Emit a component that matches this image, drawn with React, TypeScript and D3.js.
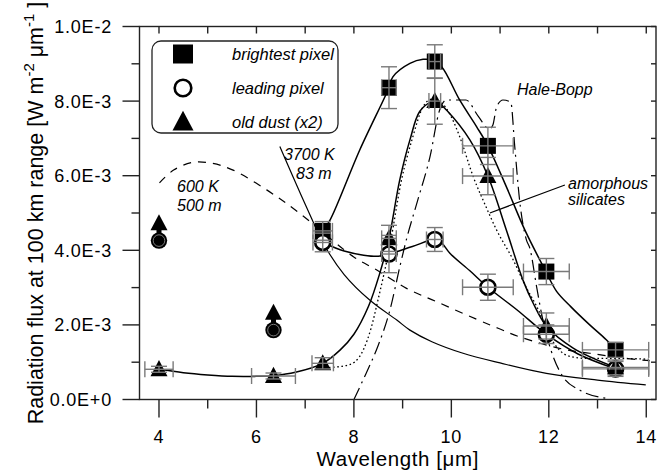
import React from 'react';
import * as d3 from 'd3';

// ---------- axes ----------
const xMajorTicks = [4, 6, 8, 10, 12, 14];
const xAllTicks = [4, 5, 6, 7, 8, 9, 10, 11, 12, 13, 14];
const yMajorTicks = [0, 2, 4, 6, 8, 10]; // in units of 1E-3
const yAllTicks = [0, 1, 2, 3, 4, 5, 6, 7, 8, 9, 10];

// ---------- measured points (wavelength µm, flux 1E-3 W m-2 µm-1) ----------
const brightX = [7.36, 8.72, 9.66, 10.75, 11.95, 13.37];
const brightY = [4.52, 8.36, 9.06, 6.8, 3.43, 1.33];
const brightXErr = [0.2, 0.15, 0.12, 0.52, 0.47, 0.68];
const brightYErr = [0.25, 0.56, 0.45, 0.5, 0.35, 0.2];

const leadX = [7.36, 8.72, 9.66, 10.75, 11.95, 13.37];
const leadY = [4.21, 3.9, 4.29, 3.01, 1.75, 0.82];
const leadXErr = [0.2, 0.15, 0.17, 0.52, 0.47, 0.68];
const leadYErr = [0.25, 0.5, 0.32, 0.35, 0.25, 0.2];

const dustX = [4.0, 6.35, 7.36, 8.72, 9.66, 10.75, 11.95, 13.37];
const dustY = [0.81, 0.63, 0.97, 4.32, 8.0, 5.99, 1.97, 0.86];
const dustXErr = [0.29, 0.45, 0.22, 0.15, 0.12, 0.52, 0.47, 0.68];
const dustYErr = [0.08, 0.08, 0.15, 0.35, 0.62, 0.5, 0.35, 0.2];

// lower limits (leading pixel circle with old-dust arrow)
const limitX = [4.0, 6.35];
const limitLead = [4.26, 1.86];
const limitDust = [4.72, 2.32];

// ---------- fitted / model curves ----------
const brightFitX = [7.36, 7.51, 8.12, 8.72, 8.8, 9.15, 9.42, 9.6, 9.8, 10.17, 10.52, 10.75, 11.13, 11.51, 11.94, 12.16, 12.45, 12.84, 13.18, 13.37];
const brightFitY = [4.52, 4.81, 6.69, 8.36, 8.65, 9.01, 9.12, 9.1, 8.92, 8.03, 7.31, 6.8, 5.7, 4.54, 3.43, 2.9, 2.49, 2.0, 1.6, 1.33];

const leadFitX = [7.36, 7.8, 8.2, 8.5, 8.72, 9.2, 9.66, 9.8, 9.97, 10.38, 10.75, 11.35, 11.95, 12.6, 13.37];
const leadFitY = [4.21, 3.98, 3.87, 3.84, 3.9, 4.1, 4.29, 4.2, 3.92, 3.45, 3.01, 2.4, 1.75, 1.22, 0.82];

const dustFitX = [4.0, 4.5, 5.0, 5.5, 6.0, 6.35, 6.8, 7.36, 7.72, 8.0, 8.3, 8.53, 8.72, 8.94, 9.15, 9.35, 9.59, 9.7, 9.9, 10.38, 10.75, 11.13, 11.47, 11.68, 11.95, 12.5, 13.37];
const dustFitY = [0.81, 0.72, 0.66, 0.62, 0.62, 0.64, 0.73, 0.97, 1.33, 1.75, 2.5, 3.38, 4.32, 5.88, 6.96, 7.72, 7.98, 7.99, 7.76, 6.96, 5.99, 4.54, 3.2, 2.58, 1.97, 1.38, 0.86];

const bb3700X = [6.48, 6.75, 7.13, 7.37, 7.8, 8.33, 8.88, 9.15, 9.6, 10.24, 11.0, 11.95, 13.0, 13.99];
const bb3700Y = [6.78, 5.97, 4.86, 4.19, 3.35, 2.66, 2.13, 1.86, 1.55, 1.24, 0.98, 0.7, 0.52, 0.39];

const bb600X = [4.01, 4.3, 4.7, 5.1, 5.52, 6.21, 6.89, 7.99, 8.47, 9.08, 9.7, 10.52, 10.96, 11.4, 12.29, 12.84, 13.73, 14.07];
const bb600Y = [5.81, 6.15, 6.36, 6.33, 6.15, 5.62, 4.99, 3.83, 3.47, 2.98, 2.62, 2.15, 1.91, 1.68, 1.35, 1.24, 1.08, 1.04];

const silX = [7.4, 7.8, 8.02, 8.2, 8.35, 8.5, 8.72, 8.98, 9.2, 9.42, 9.6, 9.8, 9.97, 10.17, 10.45, 10.7, 10.93, 11.27, 11.5, 11.82, 12.0, 12.2, 12.45, 12.8, 13.5, 14.05];
const silY = [0.85, 0.9, 1.01, 1.35, 1.9, 2.7, 4.0, 5.9, 7.0, 7.85, 8.05, 7.95, 7.65, 7.05, 5.97, 5.2, 4.54, 3.74, 3.1, 2.31, 1.75, 1.35, 1.15, 1.1, 1.1, 1.08];

const hbX = [8.0, 8.25, 8.49, 8.74, 8.95, 9.08, 9.3, 9.56, 9.76, 9.9, 10.3, 10.55, 10.78, 10.85, 10.93, 11.06, 11.22, 11.3, 11.4, 11.54, 11.61, 11.75, 11.85, 12.05, 12.29, 12.64, 13.18];
const hbY = [0.0, 0.7, 1.42, 2.4, 3.6, 4.3, 5.3, 6.5, 7.76, 8.03, 8.03, 7.6, 7.25, 7.35, 7.85, 8.03, 7.97, 6.8, 5.35, 4.28, 4.06, 3.02, 2.31, 1.3, 0.61, 0.25, 0.03];

// leader line for "amorphous silicates" label (wavelength, flux)
const leaderX = [10.79, 12.33];
const leaderY = [5.0, 5.75];

const legendLabels = ['brightest pixel', 'leading pixel', 'old dust (x2)'];

// ---------- layout ----------
const W = 670, H = 472;
const L = 139.5, R = 656, T = 26.5, B = 399.5;
const x = d3.scaleLinear().domain([3.6, 14.2]).range([L, R]);
const y = d3.scaleLinear().domain([0, 10]).range([B, T]);

const FONT = 'Liberation Sans, Arial, Helvetica, sans-serif';
const ERR = '#7a7a7a';

function linePath(xs: number[], ys: number[], curve: any) {
  const pts: [number, number][] = xs.map((v, i) => [v, ys[i]]);
  return d3.line<[number, number]>().x(d => x(d[0])).y(d => y(d[1])).curve(curve)(pts) || '';
}

function triPath(cx: number, cy: number, s: number) {
  const h = s * 0.9;
  return `M${cx},${cy - h * 0.6}L${cx + s / 2},${cy + h * 0.45}L${cx - s / 2},${cy + h * 0.45}Z`;
}

function ErrBars({ xs, ys, xe, ye }: { xs: number[]; ys: number[]; xe: number[]; ye: number[] }) {
  return (
    <g stroke={ERR} strokeWidth={1.4} fill="none">
      {xs.map((v, i) => {
        const cx = x(v), cy = y(ys[i]);
        const x0 = x(v - xe[i]), x1 = x(v + xe[i]);
        const y0 = y(ys[i] - ye[i]), y1 = y(ys[i] + ye[i]);
        const c = 8;
        return (
          <g key={i}>
            <line x1={x0} x2={x1} y1={cy} y2={cy} />
            <line x1={x0} x2={x0} y1={cy - c} y2={cy + c} />
            <line x1={x1} x2={x1} y1={cy - c} y2={cy + c} />
            <line x1={cx} x2={cx} y1={y0} y2={y1} />
            <line x1={cx - c} x2={cx + c} y1={y0} y2={y0} />
            <line x1={cx - c} x2={cx + c} y1={y1} y2={y1} />
          </g>
        );
      })}
    </g>
  );
}

export default function App() {
  const smooth = d3.curveCatmullRom.alpha(0.5);
  const mono = d3.curveMonotoneX;
  return (
    <svg width={W} height={H} style={{ position: 'absolute', left: 0, top: 0, background: '#fff' }} fontFamily={FONT}>
      <rect x={0} y={0} width={W} height={H} fill="#fff" />
      {/* model curves */}
      <g fill="none" stroke="#000">
        <path d={linePath(bb3700X, bb3700Y, smooth)} strokeWidth={1.2} />
        <path d={linePath(bb600X, bb600Y, smooth)} strokeWidth={1.2} strokeDasharray="8,7" />
        <path d={linePath(silX, silY, mono)} strokeWidth={1.3} strokeDasharray="1.6,2.6" />
        <path d={linePath(hbX, hbY, mono)} strokeWidth={1.2} strokeDasharray="13,5,2,5" />
        <path d={linePath(brightFitX, brightFitY, smooth)} strokeWidth={1.5} />
        <path d={linePath(leadFitX, leadFitY, smooth)} strokeWidth={1.5} />
        <path d={linePath(dustFitX, dustFitY, smooth)} strokeWidth={1.5} />
        <path d={linePath(leaderX, leaderY, d3.curveLinear)} strokeWidth={1.2} />
      </g>

      {/* markers */}
      <g>
        {brightX.map((v, i) => (
          <rect key={'b' + i} x={x(v) - 8} y={y(brightY[i]) - 8} width={16} height={16} fill="#000" />
        ))}
        {leadX.map((v, i) => (
          <circle key={'l' + i} cx={x(v)} cy={y(leadY[i])} r={7.5} fill="#fff" stroke="#000" strokeWidth={2.6} />
        ))}
        {dustX.map((v, i) => (
          <path key={'d' + i} d={triPath(x(v), y(dustY[i]), 17)} fill="#000" />
        ))}
        {limitX.map((v, i) => {
          const cx = x(v), cyC = y(limitLead[i]), cyT = y(limitDust[i]);
          return (
            <g key={'lim' + i}>
              <rect x={cx - 2.5} y={cyT} width={5} height={cyC - cyT} fill="#000" />
              <path d={triPath(cx, cyT, 17)} fill="#000" />
              <circle cx={cx} cy={cyC} r={8.2} fill="#000" />
              <circle cx={cx} cy={cyC} r={5.8} fill="none" stroke="#999" strokeWidth={0.8} />
            </g>
          );
        })}
      </g>
      {/* error bars */}
      <ErrBars xs={brightX} ys={brightY} xe={brightXErr} ye={brightYErr} />
      <ErrBars xs={leadX} ys={leadY} xe={leadXErr} ye={leadYErr} />
      <ErrBars xs={dustX} ys={dustY} xe={dustXErr} ye={dustYErr} />

      {/* frame */}
      <rect x={L} y={T} width={R - L} height={B - T} fill="none" stroke="#222" strokeWidth={1.4} />
      {/* ticks */}
      <g stroke="#222" strokeWidth={1.4}>
        {xAllTicks.map(t => {
          const major = xMajorTicks.includes(t);
          return (
            <g key={'xt' + t}>
              <line x1={x(t)} x2={x(t)} y1={B} y2={B + (major ? 18 : 9)} />
              <line x1={x(t)} x2={x(t)} y1={T} y2={T + 7} />
            </g>
          );
        })}
        {yAllTicks.map(t => {
          const major = yMajorTicks.includes(t);
          return (
            <g key={'yt' + t}>
              <line x1={L} x2={L - (major ? 17 : 8)} y1={y(t)} y2={y(t)} />
              <line x1={R} x2={R - 5} y1={y(t)} y2={y(t)} />
            </g>
          );
        })}
      </g>
      {/* tick labels */}
      <g fontSize={18} fill="#000" letterSpacing={0.8}>
        {xMajorTicks.map(t => (
          <text key={'xl' + t} x={x(t)} y={443} textAnchor="middle">{String(t)}</text>
        ))}
        {yMajorTicks.map(t => (
          <text key={'yl' + t} x={112} y={y(t) + 6.5} textAnchor="end">
            {(t * 1e-3).toExponential(1).toUpperCase()}
          </text>
        ))}
      </g>
      {/* axis titles */}
      <text x={(L + R) / 2} y={466} textAnchor="middle" fontSize={20.5} letterSpacing={0.6}>
        Wavelength [μm]
      </text>
      <text transform="translate(43,213) rotate(-90)" textAnchor="middle" fontSize={21.5}>
        Radiation flux at 100 km range [W m
        <tspan dy={-9} fontSize={15}>-2</tspan>
        <tspan dy={9}> μm</tspan>
        <tspan dy={-9} fontSize={15}>-1</tspan>
        <tspan dy={9}> ]</tspan>
      </text>

      {/* annotations */}
      <g fontSize={16} fontStyle="italic" fill="#000">
        <text x={177} y={192}>600 K</text>
        <text x={177} y={211}>500 m</text>
        <text x={284} y={160}>3700 K</text>
        <text x={296} y={179}>83 m</text>
        <text x={517} y={95}>Hale-Bopp</text>
        <text x={568} y={189}>amorphous</text>
        <text x={568} y={205}>silicates</text>
      </g>

      {/* legend */}
      <rect x={152} y={41} width={186} height={92} rx={9} ry={9} fill="#fff" stroke="#222" strokeWidth={1.3} />
      <rect x={173} y={44.5} width={20} height={19} fill="#000" />
      <circle cx={183} cy={88} r={8.3} fill="none" stroke="#000" strokeWidth={2.6} />
      <path d={triPath(183, 122, 21)} fill="#000" />
      <g fontSize={16.5} fontStyle="italic" fill="#000">
        {legendLabels.map((s, i) => (
          <text key={s} x={232} y={60 + i * 34}>{s}</text>
        ))}
      </g>
    </svg>
  );
}
